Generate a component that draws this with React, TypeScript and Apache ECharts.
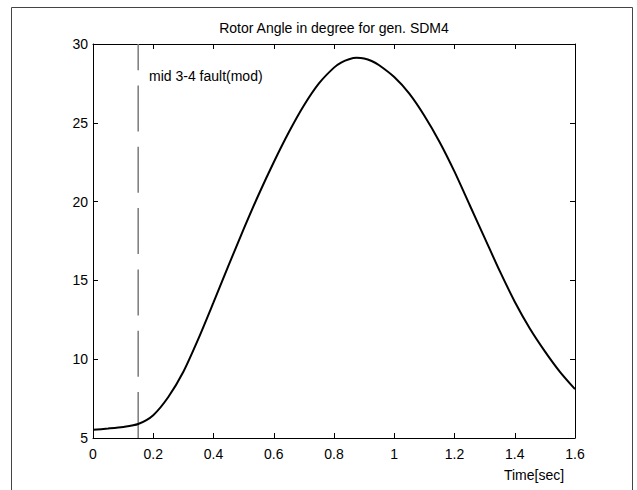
import React, { useEffect, useRef } from "react";
import * as echarts from "echarts";

const timeSec = [0, 0.05, 0.1, 0.15, 0.2, 0.25, 0.3, 0.35, 0.4, 0.45, 0.5, 0.55, 0.6, 0.65, 0.7, 0.75, 0.8, 0.825, 0.85, 0.875, 0.9, 0.925, 0.95, 1.0, 1.05, 1.1, 1.15, 1.2, 1.25, 1.3, 1.35, 1.4, 1.45, 1.5, 1.55, 1.6];
const rotorAngle = [5.52, 5.6, 5.7, 5.89, 6.45, 7.6, 9.2, 11.3, 13.6, 15.95, 18.25, 20.45, 22.5, 24.4, 26.1, 27.5, 28.5, 28.83, 29.03, 29.12, 29.08, 28.92, 28.65, 27.9, 26.85, 25.45, 23.8, 21.9, 19.8, 17.7, 15.6, 13.65, 11.95, 10.5, 9.2, 8.1];
const faultTime = 0.15;
const yRange = [5, 30];
const xTicks = { min: 0, max: 1.6, interval: 0.2 };
const yTicks = { min: 5, max: 30, interval: 5 };

const FONT = "'Liberation Sans', Arial, Helvetica, sans-serif";

export default function App() {
  const ref = useRef<HTMLDivElement>(null);
  useEffect(() => {
    if (!ref.current) return;
    const chart = echarts.init(ref.current, undefined, { renderer: "svg" });
    const axisCommon = {
      axisLine: { show: true, onZero: false, lineStyle: { color: "#000", width: 1 } },
      axisTick: { show: true, inside: true, length: 5, lineStyle: { color: "#000", width: 1 } },
      splitLine: { show: false },
    };
    chart.setOption({
      animation: false,
      backgroundColor: "#fff",
      grid: { left: 93, right: 62, top: 44, bottom: 52, containLabel: false },
      xAxis: [
        {
          type: "value",
          ...xTicks,
          position: "bottom",
          ...axisCommon,
          axisLabel: {
            color: "#000",
            fontSize: 14,
            fontFamily: FONT,
            margin: 9,
            formatter: (v: number) => String(Math.round(v * 10) / 10),
          },
        },
        {
          type: "value",
          ...xTicks,
          position: "top",
          ...axisCommon,
          axisLabel: { show: false },
        },
      ],
      yAxis: [
        {
          type: "value",
          ...yTicks,
          position: "left",
          ...axisCommon,
          axisLabel: { color: "#000", fontSize: 14, fontFamily: FONT, margin: 5 },
        },
        {
          type: "value",
          ...yTicks,
          position: "right",
          ...axisCommon,
          axisLabel: { show: false },
        },
      ],
      series: [
        {
          type: "line",
          data: [
            [faultTime, yRange[0]],
            [faultTime, yRange[1]],
          ],
          symbol: "none",
          lineStyle: { color: "#7a7a7a", width: 1.5, type: [46, 15.3] },
          silent: true,
        },
        {
          type: "line",
          data: timeSec.map((t, i) => [t, rotorAngle[i]]),
          symbol: "none",
          smooth: 0.25,
          lineStyle: { color: "#000", width: 2 },
        },
      ],
      graphic: [
        {
          type: "rect",
          shape: { x: 11.5, y: 7.5, width: 621, height: 520 },
          style: { fill: "none", stroke: "#444", lineWidth: 1 },
          silent: true,
        },
        {
          type: "text",
          x: 334,
          y: 28,
          style: {
            text: "Rotor Angle in degree for gen. SDM4",
            fill: "#000",
            font: `14px ${FONT}`,
            textAlign: "center",
            textVerticalAlign: "middle",
          },
        },
        {
          type: "text",
          x: 149,
          y: 76,
          style: {
            text: "mid 3-4 fault(mod)",
            fill: "#000",
            font: `14px ${FONT}`,
            textAlign: "left",
            textVerticalAlign: "middle",
          },
        },
        {
          type: "text",
          x: 534,
          y: 475,
          style: {
            text: "Time[sec]",
            fill: "#000",
            font: `14px ${FONT}`,
            textAlign: "center",
            textVerticalAlign: "middle",
          },
        },
      ],
    });
    return () => chart.dispose();
  }, []);
  return (
    <div
      ref={ref}
      style={{ position: "absolute", left: 0, top: 0, width: 637, height: 490 }}
    />
  );
}
